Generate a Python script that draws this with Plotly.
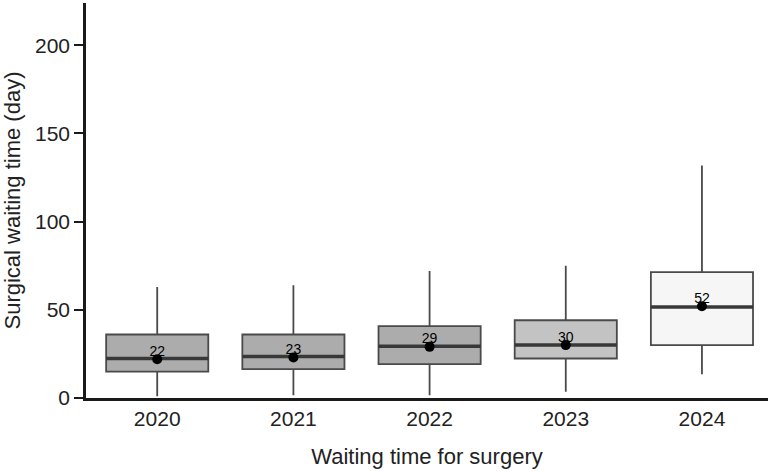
import plotly.graph_objects as go

years = ["2020", "2021", "2022", "2023", "2024"]
lower = [1, 1.5, 1.5, 3.5, 13.5]
q1 = [15, 16.4, 19.2, 22.4, 30]
median = [22.4, 23.6, 29.4, 30.1, 51.6]
q3 = [36, 36, 40.8, 44.1, 71.4]
upper = [63, 64, 72, 75, 131.8]
means = [22, 23, 29, 30, 52]
fills = ["#acacac", "#acacac", "#acacac", "#c3c3c3", "#f6f6f6"]

FONT = "Liberation Sans, Arial, sans-serif"
fig = go.Figure()
for i, y in enumerate(years):
    fig.add_trace(go.Box(
        x=[i], q1=[q1[i]], median=[median[i]], q3=[q3[i]],
        lowerfence=[lower[i]], upperfence=[upper[i]],
        width=0.75, fillcolor=fills[i],
        line=dict(color="#4a4a4a", width=1.8),
        whiskerwidth=0, boxpoints=False, showlegend=False, hoverinfo="skip",
    ))

mx, my = [], []
hw = 0.375
for i, m in enumerate(median):
    mx += [i - hw, i + hw, None]
    my += [m, m, None]
fig.add_trace(go.Scatter(x=mx, y=my, mode="lines",
                         line=dict(color="#383838", width=3.5),
                         showlegend=False, hoverinfo="skip"))

xs = list(range(len(years)))
fig.add_trace(go.Scatter(
    x=xs, y=means, mode="markers",
    marker=dict(color="black", size=10),
    showlegend=False, hoverinfo="skip"))
fig.add_trace(go.Scatter(
    x=xs, y=means, mode="text",
    text=[str(m) for m in means], textposition="top center",
    textfont=dict(family=FONT, size=14, color="black"),
    showlegend=False, hoverinfo="skip"))

fig.update_layout(
    width=768, height=471,
    margin=dict(l=86, r=0, t=3, b=73),
    plot_bgcolor="white", paper_bgcolor="white",
    font=dict(family=FONT, color="#222"),
)
fig.update_xaxes(
    range=[-0.523, 4.485], tickvals=xs, ticktext=years,
    showgrid=False, zeroline=False, showline=True, linecolor="#1a1a1a", linewidth=2.5,
    ticks="", tickfont=dict(size=21, family=FONT),
    title=dict(text="Waiting time for surgery", font=dict(size=22, family=FONT), standoff=20),
)
fig.update_yaxes(
    range=[0, 224], tickvals=[0, 50, 100, 150, 200],
    showgrid=False, zeroline=False, showline=True, linecolor="#1a1a1a", linewidth=2.5,
    ticks="outside", ticklen=9, tickwidth=2, tickcolor="#1a1a1a",
    tickfont=dict(size=21, family=FONT),
    title=dict(text="Surgical waiting time (day)", font=dict(size=22, family=FONT), standoff=10),
)
fig.write_html("out.html")
